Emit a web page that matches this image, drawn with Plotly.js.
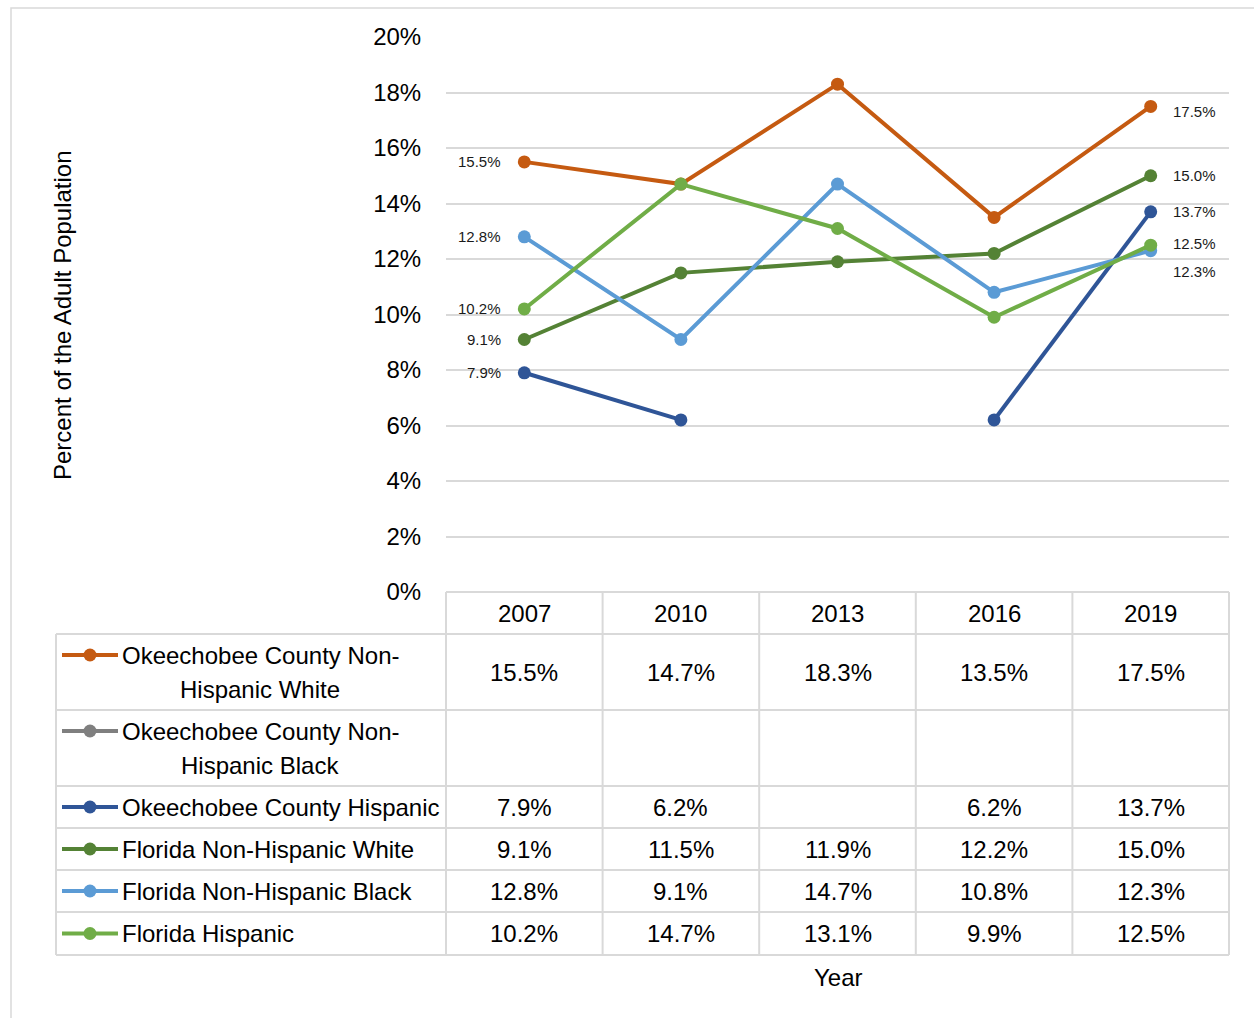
<!DOCTYPE html>
<html>
<head>
<meta charset="utf-8">
<script src="https://cdn.plot.ly/plotly-3.0.1.min.js"></script>
<style>html,body{margin:0;padding:0;background:#fff;}#chart{width:1254px;height:1018px;}</style>
</head>
<body>
<div id="chart"></div>
<script>
// ---------- data ----------
const years = ['2007', '2010', '2013', '2016', '2019'];
const seriesNames = [
  'Okeechobee County Non-Hispanic White',
  'Okeechobee County Non-Hispanic Black',
  'Okeechobee County Hispanic',
  'Florida Non-Hispanic White',
  'Florida Non-Hispanic Black',
  'Florida Hispanic'
];
const okeeNHWhite = [15.5, 14.7, 18.3, 13.5, 17.5];
const okeeNHBlack = [null, null, null, null, null];
const okeeHispanic = [7.9, 6.2, null, 6.2, 13.7];
const flNHWhite = [9.1, 11.5, 11.9, 12.2, 15.0];
const flNHBlack = [12.8, 9.1, 14.7, 10.8, 12.3];
const flHispanic = [10.2, 14.7, 13.1, 9.9, 12.5];
const yTicks = [0, 2, 4, 6, 8, 10, 12, 14, 16, 18, 20];

// ---------- style ----------
const seriesValues = [okeeNHWhite, okeeNHBlack, okeeHispanic, flNHWhite, flNHBlack, flHispanic];
const colors = ['#C55A11', '#7F7F7F', '#2F5597', '#548235', '#5B9BD5', '#70AD47'];
const endLabelShift = [-5, 0, 0, 0, -21, 2];
const FONT = '"Liberation Sans", Arial, sans-serif';
const BIG = 24, SMALL = 15;
const W = 1254, H = 1018;
const plotL = 446, plotR = 1229, plotT = 37, plotB = 592;
const tableL = 56;
const rowBounds = [592, 634, 710, 786, 828, 870, 912, 955];
const grid = '#D9D9D9';
const px = x => x / W;
const py = y => 1 - y / H;

const traces = seriesValues.map((vals, i) => ({
  type: 'scatter', mode: 'lines+markers',
  x: years, y: vals, name: seriesNames[i],
  line: { color: colors[i], width: 4 },
  marker: { color: colors[i], size: 13 },
  connectgaps: false, showlegend: false, hoverinfo: 'x+y'
}));

const shapes = [];
const annotations = [];
const colW = (plotR - plotL) / years.length;

// outer border
shapes.push({ type: 'rect', xref: 'paper', yref: 'paper', x0: px(11), x1: px(1262), y0: py(8), y1: py(1030), line: { color: '#D9D9D9', width: 1.5 } });

// table horizontal lines
rowBounds.forEach((yb, k) => {
  shapes.push({ type: 'line', xref: 'paper', yref: 'paper', x0: px(k === 0 ? plotL : tableL), x1: px(plotR), y0: py(yb), y1: py(yb), line: { color: grid, width: 2 } });
});
// table vertical lines
for (let c = 0; c <= years.length; c++) {
  const xx = plotL + c * colW;
  shapes.push({ type: 'line', xref: 'paper', yref: 'paper', x0: px(xx), x1: px(xx), y0: py(rowBounds[0]), y1: py(rowBounds[rowBounds.length - 1]), line: { color: grid, width: 2 } });
}
shapes.push({ type: 'line', xref: 'paper', yref: 'paper', x0: px(tableL), x1: px(tableL), y0: py(rowBounds[1]), y1: py(rowBounds[rowBounds.length - 1]), line: { color: grid, width: 2 } });

// header years
years.forEach((yr, c) => {
  annotations.push({ xref: 'paper', yref: 'paper', x: px(plotL + (c + 0.5) * colW), y: py((rowBounds[0] + rowBounds[1]) / 2), text: yr, showarrow: false, xanchor: 'center', yanchor: 'middle', font: { family: FONT, size: BIG, color: '#000' } });
});

const splitName = n => n.length > 28 ? [n.slice(0, n.indexOf('Non-') + 4), n.slice(n.indexOf('Non-') + 4)] : [n];

seriesNames.forEach((name, r) => {
  const top = rowBounds[r + 1], bot = rowBounds[r + 2];
  const parts = splitName(name);
  const keyY = parts.length > 1 ? top + 21 : (top + bot) / 2;
  // legend key
  shapes.push({ type: 'line', xref: 'paper', yref: 'paper', x0: px(62), x1: px(118), y0: py(keyY), y1: py(keyY), line: { color: colors[r], width: 4 } });
  shapes.push({ type: 'circle', xref: 'paper', yref: 'paper', x0: px(90 - 6.5), x1: px(90 + 6.5), y0: py(keyY + 6.5), y1: py(keyY - 6.5), fillcolor: colors[r], line: { width: 0 } });
  if (parts.length > 1) {
    annotations.push({ xref: 'paper', yref: 'paper', x: px(120), y: py(top + 21), text: parts[0], showarrow: false, xanchor: 'left', yanchor: 'middle', font: { family: FONT, size: BIG, color: '#000' } });
    annotations.push({ xref: 'paper', yref: 'paper', x: px(260), y: py(top + 55), text: parts[1], showarrow: false, xanchor: 'center', yanchor: 'middle', font: { family: FONT, size: BIG, color: '#000' } });
  } else {
    annotations.push({ xref: 'paper', yref: 'paper', x: px(120), y: py((top + bot) / 2), text: parts[0], showarrow: false, xanchor: 'left', yanchor: 'middle', font: { family: FONT, size: BIG, color: '#000' } });
  }
  // values
  seriesValues[r].forEach((v, c) => {
    if (v === null) return;
    annotations.push({ xref: 'paper', yref: 'paper', x: px(plotL + (c + 0.5) * colW), y: py((top + bot) / 2), text: v.toFixed(1) + '%', showarrow: false, xanchor: 'center', yanchor: 'middle', font: { family: FONT, size: BIG, color: '#000' } });
  });
  // data labels at first and last points (category index positions)
  const vals = seriesValues[r];
  if (vals[0] !== null) {
    annotations.push({ x: 0, y: vals[0], xref: 'x', yref: 'y', text: vals[0].toFixed(1) + '%', showarrow: false, xanchor: 'right', yanchor: 'middle', xshift: -21, font: { family: FONT, size: SMALL, color: '#1a1a1a' } });
  }
  const last = vals.length - 1;
  if (vals[last] !== null) {
    annotations.push({ x: last, y: vals[last], xref: 'x', yref: 'y', text: vals[last].toFixed(1) + '%', showarrow: false, xanchor: 'left', yanchor: 'middle', xshift: 20, yshift: endLabelShift[r], font: { family: FONT, size: SMALL, color: '#1a1a1a' } });
  }
});

// axis titles
annotations.push({ xref: 'paper', yref: 'paper', x: px(838), y: py(977), text: 'Year', showarrow: false, xanchor: 'center', yanchor: 'middle', font: { family: FONT, size: BIG, color: '#000' } });
annotations.push({ xref: 'paper', yref: 'paper', x: px(62), y: py(315), text: 'Percent of the Adult Population', textangle: -90, showarrow: false, xanchor: 'center', yanchor: 'middle', font: { family: FONT, size: 24, color: '#000' } });

const layout = {
  width: W, height: H, autosize: false,
  margin: { l: 0, r: 0, t: 0, b: 0 },
  paper_bgcolor: '#fff', plot_bgcolor: '#fff',
  showlegend: false,
  xaxis: {
    type: 'category', domain: [px(plotL), px(plotR)], range: [-0.5, 4.5],
    showticklabels: false, showgrid: false, zeroline: false, showline: false, ticks: '', fixedrange: true
  },
  yaxis: {
    domain: [py(plotB), py(plotT)], range: [0, 20],
    tickvals: yTicks, ticktext: yTicks.map(t => t + '%'),
    showgrid: true, gridcolor: grid, gridwidth: 2, zeroline: false, showline: false,
    ticks: 'outside', ticklen: 19, tickcolor: 'rgba(0,0,0,0)',
    tickfont: { family: FONT, size: BIG, color: '#000' }, fixedrange: true
  },
  shapes: shapes,
  annotations: annotations
};

Plotly.newPlot('chart', traces, layout, { staticPlot: true, displayModeBar: false });
</script>
</body>
</html>
